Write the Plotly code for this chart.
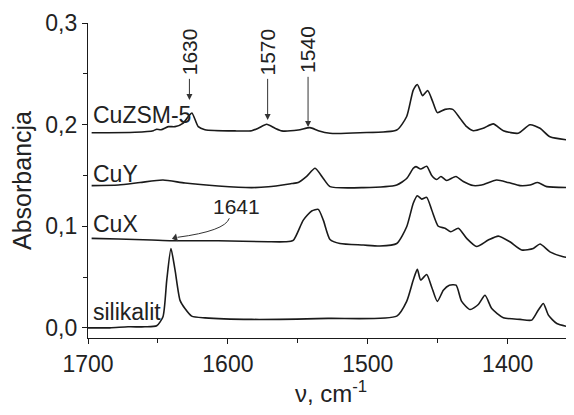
import plotly.graph_objects as go

# ---- data (wavenumber cm-1, absorbance) ----
silikalit_x = [1700, 1684.3, 1671.4, 1659.3, 1650.9, 1646.4, 1643.7, 1640.7, 1637.8, 1634.2, 1630.7, 1625.9,
               1616.4, 1583.0, 1528.4, 1479.3, 1472.2, 1467.5, 1464.6, 1462.2, 1457.9, 1454.3, 1450.3, 1446.0,
               1441.7, 1436.9, 1432.9, 1426.9, 1421.0, 1416.2, 1411.4, 1403.1, 1391.2, 1382.8, 1378.1, 1374.5,
               1370.9, 1364.9, 1353.1]
silikalit_y = [0.000, 0.000, 0.001, 0.001, 0.002, 0.011, 0.047, 0.078, 0.057, 0.027, 0.019, 0.0115,
               0.0098, 0.0083, 0.0093, 0.0115, 0.026, 0.047, 0.0575, 0.047, 0.0525, 0.040, 0.026, 0.037,
               0.042, 0.042, 0.026, 0.018, 0.023, 0.032, 0.019, 0.010, 0.0083, 0.0076, 0.0175, 0.024,
               0.0125, 0.0043, 0.000]

cux_x = [1697.4, 1678.3, 1654.5, 1640.2, 1606.9, 1571.1, 1559.2, 1553.3, 1546.1, 1540.1, 1535.4, 1531.8,
         1527.0, 1519.9, 1503.2, 1491.3, 1479.3, 1472.2, 1467.5, 1464.6, 1461.5, 1457.9, 1454.3, 1449.6,
         1444.8, 1440.7, 1435.3, 1429.3, 1422.2, 1413.9, 1406.7, 1398.4, 1390.0, 1381.7, 1376.9, 1369.8,
         1360.3, 1351.9]
cux_y = [0.088, 0.0874, 0.0864, 0.0857, 0.0857, 0.0847, 0.0847, 0.086, 0.106, 0.115, 0.1166, 0.106,
         0.087, 0.083, 0.0815, 0.0805, 0.083, 0.0995, 0.1226, 0.130, 0.1267, 0.1284, 0.116, 0.100,
         0.098, 0.0946, 0.098, 0.088, 0.080, 0.0864, 0.0903, 0.0847, 0.0766, 0.078, 0.0825, 0.0748,
         0.070, 0.0684]

cuy_x = [1697.4, 1678.3, 1662.8, 1646.4, 1630.7, 1606.9, 1583.0, 1571.1, 1554.4, 1549.7, 1543.7, 1537.7,
         1531.8, 1527.0, 1503.2, 1479.3, 1472.2, 1467.5, 1465.6, 1462.2, 1457.9, 1454.3, 1450.7, 1447.7,
         1443.6, 1437.0, 1431.7, 1424.6, 1418.6, 1407.9, 1399.6, 1391.2, 1384.1, 1378.6, 1372.1, 1351.9]
cuy_y = [0.1400, 0.1405, 0.143, 0.1455, 0.1425, 0.1396, 0.138, 0.1388, 0.142, 0.143, 0.149, 0.157,
         0.147, 0.139, 0.138, 0.1406, 0.147, 0.157, 0.1587, 0.1563, 0.159, 0.150, 0.146, 0.149,
         0.145, 0.149, 0.144, 0.140, 0.1406, 0.1455, 0.143, 0.140, 0.1406, 0.143, 0.139, 0.138]

cuzsm_x = [1697.4, 1666.4, 1653.3, 1650.9, 1647.8, 1642.6, 1637.8, 1631.9, 1628.3, 1625.7, 1621.2, 1616.4,
           1594.9, 1583.0, 1578.3, 1572.3, 1566.3, 1561.5, 1549.7, 1541.3, 1535.4, 1527.0, 1505.6, 1479.3,
           1472.2, 1467.5, 1464.6, 1460.8, 1457.2, 1453.6, 1450.3, 1444.8, 1439.3, 1434.1, 1429.3, 1424.6,
           1417.5, 1410.3, 1403.1, 1392.4, 1384.1, 1376.9, 1369.8, 1351.9]
cuzsm_y = [0.192, 0.1925, 0.194, 0.1955, 0.195, 0.198, 0.198, 0.2015, 0.208, 0.2115, 0.198, 0.195,
           0.1938, 0.194, 0.1964, 0.2003, 0.1964, 0.1938, 0.1947, 0.197, 0.194, 0.1915, 0.192, 0.1947,
           0.208, 0.234, 0.2395, 0.2285, 0.2335, 0.2226, 0.2118, 0.215, 0.215, 0.2063, 0.198, 0.194,
           0.1964, 0.2007, 0.194, 0.1915, 0.1999, 0.1964, 0.188, 0.184]

series_names = ["CuZSM-5", "CuY", "CuX", "silikalit"]
label_y = [0.2096, 0.1514, 0.1022, 0.0155]

x_tickvals = [1700, 1600, 1500, 1400]
x_ticktext = ["1700", "1600", "1500", "1400"]
y_tickvals = [0.0, 0.1, 0.2, 0.3]
y_ticktext = ["0,0", "0,1", "0,2", "0,3"]

# band markers: label, arrow x, arrow tip y, text centre y
band_labels = ["1630", "1570", "1540"]
band_x = [1627.5, 1571.6, 1542.7]
band_tip = [0.2243, 0.2046, 0.1977]
band_text_y = [0.2716, 0.2716, 0.2736]

FONT = "Liberation Sans, Arial, sans-serif"
LINE = "#1a1a1a"

fig = go.Figure()
for xs, ys in [(cuzsm_x, cuzsm_y), (cuy_x, cuy_y), (cux_x, cux_y), (silikalit_x, silikalit_y)]:
    fig.add_trace(go.Scatter(x=xs, y=ys, mode="lines",
                             line=dict(color=LINE, width=1.6, shape="spline", smoothing=0.6),
                             showlegend=False, hoverinfo="skip"))

# arrowhead of the curved 1641 pointer
fig.add_trace(go.Scatter(x=[1637.6], y=[0.0886], mode="markers",
                         marker=dict(symbol="triangle-left", size=7, angle=-14, color="#333"),
                         showlegend=False, hoverinfo="skip"))

annotations = []
for name, ly in zip(series_names, label_y):
    annotations.append(dict(x=1698, y=ly, xref="x", yref="y", text=name, showarrow=False,
                            xanchor="left", yanchor="middle",
                            font=dict(family=FONT, size=23, color="#222")))

for lab, bx, tip, ty in zip(band_labels, band_x, band_tip, band_text_y):
    annotations.append(dict(x=bx, y=tip, xref="x", yref="y", ax=bx, ay=ty, axref="x", ayref="y",
                            text=lab, textangle=-90, borderpad=3,
                            showarrow=True, arrowhead=2, arrowsize=1.2, arrowwidth=1,
                            arrowcolor="#333", font=dict(family=FONT, size=21, color="#222")))

annotations.append(dict(x=1594.2, y=0.1199, xref="x", yref="y", text="1641", showarrow=False,
                        font=dict(family=FONT, size=21, color="#222")))

shapes = [dict(type="path", xref="x", yref="y",
               path="M 1599.0,0.1078 Q 1602.1,0.0953 1636.0,0.0891",
               line=dict(color="#333", width=1))]

# the page body keeps an 8 px default margin, so the figure is 8 px smaller each way
fig.update_layout(
    width=566, height=407,
    margin=dict(l=80, r=0, t=15, b=77),
    paper_bgcolor="white", plot_bgcolor="white",
    annotations=annotations, shapes=shapes,
    font=dict(family=FONT, color="#222"),
    xaxis=dict(range=[1700, 1352.6], showgrid=False, zeroline=False, automargin=False,
               showline=True, linecolor=LINE, linewidth=1.2,
               ticks="outside", ticklen=5, tickcolor=LINE, tickwidth=1.2,
               tickvals=x_tickvals, ticktext=x_ticktext,
               tickfont=dict(family=FONT, size=23, color="#222"),
               minor=dict(dtick=50, ticks="outside", ticklen=4, tickcolor=LINE, tickwidth=1.2),
               title=dict(text="ν, cm<sup>-1</sup>", standoff=0,
                          font=dict(family=FONT, size=24, color="#222"))),
    yaxis=dict(range=[-0.01, 0.3], showgrid=False, zeroline=False, automargin=False,
               showline=True, linecolor=LINE, linewidth=1.2,
               ticks="outside", ticklen=5, tickcolor=LINE, tickwidth=1.2,
               tickvals=y_tickvals, ticktext=y_ticktext,
               tickfont=dict(family=FONT, size=23, color="#222"),
               minor=dict(dtick=0.05, tick0=0, ticks="outside", ticklen=4, tickcolor=LINE, tickwidth=1.2),
               title=dict(text="Absorbancja", standoff=10,
                          font=dict(family=FONT, size=25, color="#222"))),
)

fig.write_html("out.html")
